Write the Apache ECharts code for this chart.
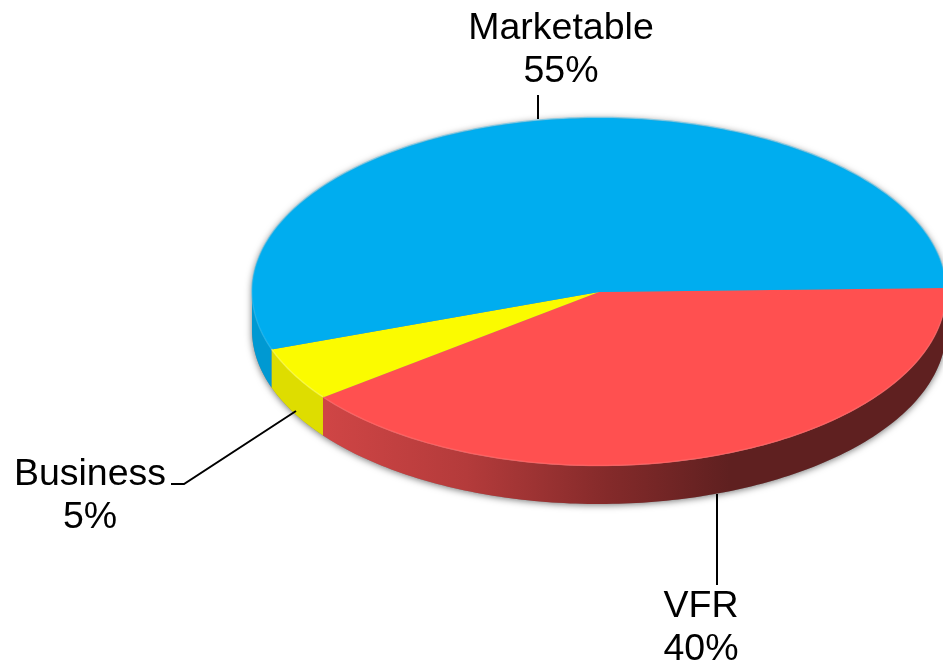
<!DOCTYPE html>
<html>
<head>
<meta charset="utf-8">
<style>html,body{margin:0;padding:0;background:#fff}#main{width:943px;height:664px}</style>
<script src="https://cdn.jsdelivr.net/npm/echarts@6/dist/echarts.min.js"></script>
</head>
<body>
<div id="main"></div>
<script>
// slices in drawing order, clockwise from the right hand side
var categories = ['VFR', 'Business', 'Marketable'];
var shares = [40, 5, 55];

var topColors = ['#ff5050', '#fbfb00', '#00adef'];
var rimColors = ['#ff7070', '#ffff70', '#30c0f5'];
var wallColors = [
    new echarts.graphic.LinearGradient(325, 0, 730, 0, [
        {offset: 0, color: '#cf4545'},
        {offset: 0.35, color: '#b43b3b'},
        {offset: 0.7, color: '#842a2a'},
        {offset: 1, color: '#5f2020'}
    ], true),
    '#dedd00',
    '#0099d2'
];

// pie geometry
var cx = 599, cy = 292, rx = 347, ry = 174, depth = 38;
var startAngle = -1.3;

// where the labels and their leader lines sit
var labelPos = [
    {x: 701, y: 628, line: [[717, 494], [717, 585]]},
    {x: 90, y: 496, line: [[171, 484], [184, 484], [296, 411]]},
    {x: 561, y: 50, line: [[538, 95], [538, 119]]}
];

function pt(deg, dy) {
    var a = deg * Math.PI / 180;
    return [cx + rx * Math.cos(a), cy + (dy || 0) + ry * Math.sin(a)];
}

function arc(from, to, dy) {
    var pts = [];
    var n = Math.max(2, Math.ceil(Math.abs(to - from)));
    for (var i = 0; i <= n; i++) {
        pts.push(pt(from + (to - from) * i / n, dy));
    }
    return pts;
}

function renderSlice(params, api) {
    var i = params.dataIndex;
    var total = shares.reduce(function (s, v) { return s + v; }, 0);
    var before = 0;
    for (var k = 0; k < i; k++) before += shares[k];
    var from = startAngle + before / total * 360;
    var to = from + api.value(0) / total * 360;
    var children = [];

    // soft shadow under the whole disc, only once
    if (i === 0) {
        children.push({
            type: 'polygon',
            z2: 0,
            shape: {points: arc(0, 180, depth).concat(arc(180, 360, 0))},
            style: {fill: '#888', shadowColor: 'rgba(0,0,0,0.55)', shadowBlur: 7, shadowOffsetY: 1}
        });
    }

    // side wall, only the front half can be seen
    var a = Math.max(from, 0), b = Math.min(to, 180);
    if (b > a) {
        children.push({
            type: 'polygon',
            z2: 1,
            shape: {points: arc(a, b, 0).concat(arc(b, a, depth))},
            style: {fill: wallColors[i]}
        });
    }

    // top face
    children.push({
        type: 'polygon',
        z2: 2,
        shape: {points: [[cx, cy]].concat(arc(from, to, 0))},
        style: {fill: topColors[i]}
    });

    // light bevel along the rim
    children.push({
        type: 'polyline',
        z2: 3,
        shape: {points: arc(from, to, -0.5)},
        style: {fill: null, stroke: rimColors[i], lineWidth: 1.5, opacity: 0.5}
    });

    // leader line and label
    children.push({
        type: 'polyline',
        z2: 4,
        shape: {points: labelPos[i].line},
        style: {fill: null, stroke: '#000', lineWidth: 2}
    });
    children.push({
        type: 'text',
        z2: 5,
        x: labelPos[i].x,
        y: labelPos[i].y,
        style: {
            text: categories[i] + '\n' + api.value(0) + '%',
            font: '37.5px "Liberation Sans", Arial, sans-serif',
            lineHeight: 43,
            fill: '#000',
            align: 'center',
            verticalAlign: 'middle'
        }
    });

    return {type: 'group', children: children};
}

var chart = echarts.init(document.getElementById('main'), null, {renderer: 'canvas'});
chart.setOption({
    animation: false,
    series: [{
        type: 'custom',
        coordinateSystem: 'none',
        clip: false,
        renderItem: renderSlice,
        data: shares.map(function (v, i) { return {name: categories[i], value: [v]}; })
    }]
});
</script>
</body>
</html>
